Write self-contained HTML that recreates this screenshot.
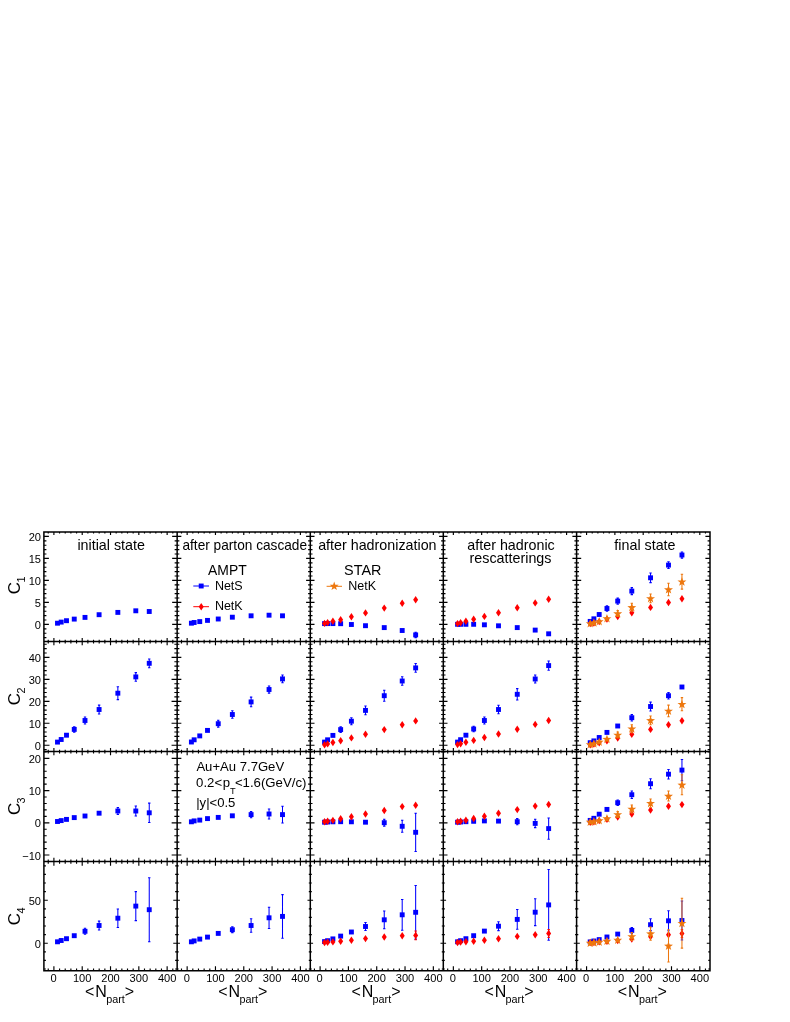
<!DOCTYPE html>
<html><head><meta charset="utf-8"><title>figure</title>
<style>
html,body{margin:0;padding:0;background:#fff;}
body{width:790px;height:1022px;overflow:hidden;}
svg{display:block;will-change:transform;}
text{font-family:"Liberation Sans",sans-serif;fill:#000;}
</style></head><body>
<svg width="790" height="1022" viewBox="0 0 790 1022">
<rect x="0" y="0" width="790" height="1022" fill="#fff"/>
<g id="data">
<g fill="#0000ff" stroke="none"><rect x="55.05" y="620.75" width="4.9" height="4.9"/><rect x="58.75" y="619.65" width="4.9" height="4.9"/><rect x="64.05" y="618.25" width="4.9" height="4.9"/><rect x="71.8" y="616.65" width="4.9" height="4.9"/><rect x="82.55" y="614.95" width="4.9" height="4.9"/><rect x="96.65" y="612.25" width="4.9" height="4.9"/><rect x="115.4" y="609.95" width="4.9" height="4.9"/><rect x="133.35" y="608.35" width="4.9" height="4.9"/><rect x="146.8" y="609.05" width="4.9" height="4.9"/></g>
<g fill="#0000ff" stroke="none"><rect x="188.95" y="620.75" width="4.9" height="4.9"/><rect x="191.7" y="620.05" width="4.9" height="4.9"/><rect x="197.3" y="619.15" width="4.9" height="4.9"/><rect x="205.05" y="617.95" width="4.9" height="4.9"/><rect x="215.8" y="616.55" width="4.9" height="4.9"/><rect x="229.9" y="614.75" width="4.9" height="4.9"/><rect x="248.65" y="613.35" width="4.9" height="4.9"/><rect x="266.6" y="612.75" width="4.9" height="4.9"/><rect x="280.05" y="613.35" width="4.9" height="4.9"/></g>
<g fill="#0000ff" stroke="none"><path d="M415.65 632.2V637.6M414.45 632.2h2.4M414.45 637.6h2.4" stroke="#0000ff" stroke-width="1.05" fill="none"/><rect x="322.1" y="621.15" width="4.9" height="4.9"/><rect x="325.15" y="621.15" width="4.9" height="4.9"/><rect x="330.45" y="621.15" width="4.9" height="4.9"/><rect x="338.2" y="621.25" width="4.9" height="4.9"/><rect x="348.95" y="622.05" width="4.9" height="4.9"/><rect x="363.05" y="623.25" width="4.9" height="4.9"/><rect x="381.8" y="625.15" width="4.9" height="4.9"/><rect x="399.75" y="628.05" width="4.9" height="4.9"/><rect x="413.2" y="632.45" width="4.9" height="4.9"/></g>
<g fill="#ff0000" stroke="none"><polygon points="324.55,619.7 327.05,623.4 324.55,627.1 322.05,623.4"/><polygon points="327.6,618.9 330.1,622.6 327.6,626.3 325.1,622.6"/><polygon points="332.9,617.6 335.4,621.3 332.9,625 330.4,621.3"/><polygon points="340.65,616 343.15,619.7 340.65,623.4 338.15,619.7"/><polygon points="351.4,613 353.9,616.7 351.4,620.4 348.9,616.7"/><polygon points="365.5,609.2 368,612.9 365.5,616.6 363,612.9"/><polygon points="384.25,604.4 386.75,608.1 384.25,611.8 381.75,608.1"/><polygon points="402.2,599.5 404.7,603.2 402.2,606.9 399.7,603.2"/><polygon points="415.65,596.1 418.15,599.8 415.65,603.5 413.15,599.8"/></g>
<g fill="#0000ff" stroke="none"><rect x="455.1" y="621.85" width="4.9" height="4.9"/><rect x="458.15" y="621.85" width="4.9" height="4.9"/><rect x="463.45" y="621.85" width="4.9" height="4.9"/><rect x="471.2" y="621.85" width="4.9" height="4.9"/><rect x="481.95" y="622.35" width="4.9" height="4.9"/><rect x="496.05" y="623.35" width="4.9" height="4.9"/><rect x="514.8" y="625.15" width="4.9" height="4.9"/><rect x="532.75" y="627.65" width="4.9" height="4.9"/><rect x="546.2" y="631.35" width="4.9" height="4.9"/></g>
<g fill="#ff0000" stroke="none"><polygon points="457.55,619.9 460.05,623.6 457.55,627.3 455.05,623.6"/><polygon points="460.6,619.1 463.1,622.8 460.6,626.5 458.1,622.8"/><polygon points="465.9,617.6 468.4,621.3 465.9,625 463.4,621.3"/><polygon points="473.65,615.5 476.15,619.2 473.65,622.9 471.15,619.2"/><polygon points="484.4,612.7 486.9,616.4 484.4,620.1 481.9,616.4"/><polygon points="498.5,609.1 501,612.8 498.5,616.5 496,612.8"/><polygon points="517.25,604 519.75,607.7 517.25,611.4 514.75,607.7"/><polygon points="535.2,599.2 537.7,602.9 535.2,606.6 532.7,602.9"/><polygon points="548.65,595.5 551.15,599.2 548.65,602.9 546.15,599.2"/></g>
<g fill="#0000ff" stroke="none"><path d="M606.95 605.8V611.2M605.75 605.8h2.4M605.75 611.2h2.4M617.7 598.1V604.1M616.5 598.1h2.4M616.5 604.1h2.4M631.8 587.6V594.6M630.6 587.6h2.4M630.6 594.6h2.4M650.55 573V582.6M649.35 573h2.4M649.35 582.6h2.4M668.5 561.7V568.5M667.3 561.7h2.4M667.3 568.5h2.4M681.95 551.9V558.1M680.75 551.9h2.4M680.75 558.1h2.4" stroke="#0000ff" stroke-width="1.05" fill="none"/><rect x="587.75" y="618.95" width="4.9" height="4.9"/><rect x="591.45" y="616.35" width="4.9" height="4.9"/><rect x="596.75" y="612.05" width="4.9" height="4.9"/><rect x="604.5" y="606.05" width="4.9" height="4.9"/><rect x="615.25" y="598.65" width="4.9" height="4.9"/><rect x="629.35" y="588.65" width="4.9" height="4.9"/><rect x="648.1" y="575.35" width="4.9" height="4.9"/><rect x="666.05" y="562.65" width="4.9" height="4.9"/><rect x="679.5" y="552.55" width="4.9" height="4.9"/></g>
<g fill="#ff0000" stroke="none"><polygon points="590.2,619.9 592.7,623.6 590.2,627.3 587.7,623.6"/><polygon points="593.9,619.3 596.4,623 593.9,626.7 591.4,623"/><polygon points="599.2,617.9 601.7,621.6 599.2,625.3 596.7,621.6"/><polygon points="606.95,615.4 609.45,619.1 606.95,622.8 604.45,619.1"/><polygon points="617.7,612.8 620.2,616.5 617.7,620.2 615.2,616.5"/><polygon points="631.8,609.1 634.3,612.8 631.8,616.5 629.3,612.8"/><polygon points="650.55,603.7 653.05,607.4 650.55,611.1 648.05,607.4"/><polygon points="668.5,598.8 671,602.5 668.5,606.2 666,602.5"/><polygon points="681.95,595.1 684.45,598.8 681.95,602.5 679.45,598.8"/></g>
<g fill="#ed770e" stroke="none"><path d="M617.7 610.5V616.5M616.5 610.5h2.4M616.5 616.5h2.4M631.8 603.3V611.3M630.6 603.3h2.4M630.6 611.3h2.4M650.55 594V602.8M649.35 594h2.4M649.35 602.8h2.4M668.5 583.3V595.7M667.3 583.3h2.4M667.3 595.7h2.4M681.95 574.3V589.1M680.75 574.3h2.4M680.75 589.1h2.4" stroke="#ed770e" stroke-width="1.05" fill="none"/><polygon points="590.2,619 591.32,622.16 594.67,622.25 592.01,624.29 592.96,627.5 590.2,625.6 587.44,627.5 588.39,624.29 585.73,622.25 589.08,622.16"/><polygon points="593.9,618.3 595.02,621.46 598.37,621.55 595.71,623.59 596.66,626.8 593.9,624.9 591.14,626.8 592.09,623.59 589.43,621.55 592.78,621.46"/><polygon points="599.2,617 600.32,620.16 603.67,620.25 601.01,622.29 601.96,625.5 599.2,623.6 596.44,625.5 597.39,622.29 594.73,620.25 598.08,620.16"/><polygon points="606.95,614 608.07,617.16 611.42,617.25 608.76,619.29 609.71,622.5 606.95,620.6 604.19,622.5 605.14,619.29 602.48,617.25 605.83,617.16"/><polygon points="617.7,609.1 618.82,612.26 622.17,612.35 619.51,614.39 620.46,617.6 617.7,615.7 614.94,617.6 615.89,614.39 613.23,612.35 616.58,612.26"/><polygon points="631.8,602.9 632.92,606.06 636.27,606.15 633.61,608.19 634.56,611.4 631.8,609.5 629.04,611.4 629.99,608.19 627.33,606.15 630.68,606.06"/><polygon points="650.55,594 651.67,597.16 655.02,597.25 652.36,599.29 653.31,602.5 650.55,600.6 647.79,602.5 648.74,599.29 646.08,597.25 649.43,597.16"/><polygon points="668.5,585.1 669.62,588.26 672.97,588.35 670.31,590.39 671.26,593.6 668.5,591.7 665.74,593.6 666.69,590.39 664.03,588.35 667.38,588.26"/><polygon points="681.95,577.3 683.07,580.46 686.42,580.55 683.76,582.59 684.71,585.8 681.95,583.9 679.19,585.8 680.14,582.59 677.48,580.55 680.83,580.46"/></g>
<g fill="#0000ff" stroke="none"><path d="M74.25 726.7V732.1M73.05 726.7h2.4M73.05 732.1h2.4M85 717V724M83.8 717h2.4M83.8 724h2.4M99.1 705.1V713.9M97.9 705.1h2.4M97.9 713.9h2.4M117.85 686.8V699.6M116.65 686.8h2.4M116.65 699.6h2.4M135.8 672.6V681.2M134.6 672.6h2.4M134.6 681.2h2.4M149.25 658.9V667.7M148.05 658.9h2.4M148.05 667.7h2.4" stroke="#0000ff" stroke-width="1.05" fill="none"/><rect x="55.05" y="739.65" width="4.9" height="4.9"/><rect x="58.75" y="737.05" width="4.9" height="4.9"/><rect x="64.05" y="732.75" width="4.9" height="4.9"/><rect x="71.8" y="726.95" width="4.9" height="4.9"/><rect x="82.55" y="718.05" width="4.9" height="4.9"/><rect x="96.65" y="707.05" width="4.9" height="4.9"/><rect x="115.4" y="690.75" width="4.9" height="4.9"/><rect x="133.35" y="674.45" width="4.9" height="4.9"/><rect x="146.8" y="660.85" width="4.9" height="4.9"/></g>
<g fill="#0000ff" stroke="none"><path d="M218.25 720.3V727.1M217.05 720.3h2.4M217.05 727.1h2.4M232.35 710.7V718.3M231.15 710.7h2.4M231.15 718.3h2.4M251.1 697.1V706.7M249.9 697.1h2.4M249.9 706.7h2.4M269.05 685.9V693.1M267.85 685.9h2.4M267.85 693.1h2.4M282.5 675V682.8M281.3 675h2.4M281.3 682.8h2.4" stroke="#0000ff" stroke-width="1.05" fill="none"/><rect x="188.95" y="739.55" width="4.9" height="4.9"/><rect x="191.7" y="737.35" width="4.9" height="4.9"/><rect x="197.3" y="733.45" width="4.9" height="4.9"/><rect x="205.05" y="727.95" width="4.9" height="4.9"/><rect x="215.8" y="721.25" width="4.9" height="4.9"/><rect x="229.9" y="712.05" width="4.9" height="4.9"/><rect x="248.65" y="699.45" width="4.9" height="4.9"/><rect x="266.6" y="687.05" width="4.9" height="4.9"/><rect x="280.05" y="676.45" width="4.9" height="4.9"/></g>
<g fill="#0000ff" stroke="none"><path d="M340.65 726.8V732.4M339.45 726.8h2.4M339.45 732.4h2.4M351.4 717.7V724.7M350.2 717.7h2.4M350.2 724.7h2.4M365.5 706V714.8M364.3 706h2.4M364.3 714.8h2.4M384.25 690.2V701.2M383.05 690.2h2.4M383.05 701.2h2.4M402.2 676.8V685.2M401 676.8h2.4M401 685.2h2.4M415.65 663.5V672.3M414.45 663.5h2.4M414.45 672.3h2.4" stroke="#0000ff" stroke-width="1.05" fill="none"/><rect x="322.1" y="739.65" width="4.9" height="4.9"/><rect x="325.15" y="737.35" width="4.9" height="4.9"/><rect x="330.45" y="732.95" width="4.9" height="4.9"/><rect x="338.2" y="727.15" width="4.9" height="4.9"/><rect x="348.95" y="718.75" width="4.9" height="4.9"/><rect x="363.05" y="707.95" width="4.9" height="4.9"/><rect x="381.8" y="693.25" width="4.9" height="4.9"/><rect x="399.75" y="678.55" width="4.9" height="4.9"/><rect x="413.2" y="665.45" width="4.9" height="4.9"/></g>
<g fill="#ff0000" stroke="none"><polygon points="324.55,741.1 327.05,744.8 324.55,748.5 322.05,744.8"/><polygon points="327.6,740.2 330.1,743.9 327.6,747.6 325.1,743.9"/><polygon points="332.9,738.8 335.4,742.5 332.9,746.2 330.4,742.5"/><polygon points="340.65,737 343.15,740.7 340.65,744.4 338.15,740.7"/><polygon points="351.4,734.2 353.9,737.9 351.4,741.6 348.9,737.9"/><polygon points="365.5,730.6 368,734.3 365.5,738 363,734.3"/><polygon points="384.25,725.9 386.75,729.6 384.25,733.3 381.75,729.6"/><polygon points="402.2,721.1 404.7,724.8 402.2,728.5 399.7,724.8"/><polygon points="415.65,717.2 418.15,720.9 415.65,724.6 413.15,720.9"/></g>
<g fill="#0000ff" stroke="none"><path d="M473.65 726.2V731.8M472.45 726.2h2.4M472.45 731.8h2.4M484.4 717V724M483.2 717h2.4M483.2 724h2.4M498.5 705.2V713.8M497.3 705.2h2.4M497.3 713.8h2.4M517.25 688.6V700M516.05 688.6h2.4M516.05 700h2.4M535.2 675V683M534 675h2.4M534 683h2.4M548.65 661V670.2M547.45 661h2.4M547.45 670.2h2.4" stroke="#0000ff" stroke-width="1.05" fill="none"/><rect x="455.1" y="739.65" width="4.9" height="4.9"/><rect x="458.15" y="737.25" width="4.9" height="4.9"/><rect x="463.45" y="732.75" width="4.9" height="4.9"/><rect x="471.2" y="726.55" width="4.9" height="4.9"/><rect x="481.95" y="718.05" width="4.9" height="4.9"/><rect x="496.05" y="707.05" width="4.9" height="4.9"/><rect x="514.8" y="691.85" width="4.9" height="4.9"/><rect x="532.75" y="676.55" width="4.9" height="4.9"/><rect x="546.2" y="663.15" width="4.9" height="4.9"/></g>
<g fill="#ff0000" stroke="none"><polygon points="457.55,740.9 460.05,744.6 457.55,748.3 455.05,744.6"/><polygon points="460.6,740 463.1,743.7 460.6,747.4 458.1,743.7"/><polygon points="465.9,738.6 468.4,742.3 465.9,746 463.4,742.3"/><polygon points="473.65,736.7 476.15,740.4 473.65,744.1 471.15,740.4"/><polygon points="484.4,733.8 486.9,737.5 484.4,741.2 481.9,737.5"/><polygon points="498.5,730.3 501,734 498.5,737.7 496,734"/><polygon points="517.25,725.5 519.75,729.2 517.25,732.9 514.75,729.2"/><polygon points="535.2,720.7 537.7,724.4 535.2,728.1 532.7,724.4"/><polygon points="548.65,716.8 551.15,720.5 548.65,724.2 546.15,720.5"/></g>
<g fill="#0000ff" stroke="none"><path d="M631.8 714.4V721M630.6 714.4h2.4M630.6 721h2.4M650.55 702.1V710.9M649.35 702.1h2.4M649.35 710.9h2.4M668.5 692.5V698.9M667.3 692.5h2.4M667.3 698.9h2.4" stroke="#0000ff" stroke-width="1.05" fill="none"/><rect x="587.75" y="740.25" width="4.9" height="4.9"/><rect x="591.45" y="738.45" width="4.9" height="4.9"/><rect x="596.75" y="735.05" width="4.9" height="4.9"/><rect x="604.5" y="729.95" width="4.9" height="4.9"/><rect x="615.25" y="723.55" width="4.9" height="4.9"/><rect x="629.35" y="715.25" width="4.9" height="4.9"/><rect x="648.1" y="704.05" width="4.9" height="4.9"/><rect x="666.05" y="693.25" width="4.9" height="4.9"/><rect x="679.5" y="684.55" width="4.9" height="4.9"/></g>
<g fill="#ff0000" stroke="none"><polygon points="590.2,741.1 592.7,744.8 590.2,748.5 587.7,744.8"/><polygon points="593.9,740.4 596.4,744.1 593.9,747.8 591.4,744.1"/><polygon points="599.2,739 601.7,742.7 599.2,746.4 596.7,742.7"/><polygon points="606.95,737.2 609.45,740.9 606.95,744.6 604.45,740.9"/><polygon points="617.7,734.4 620.2,738.1 617.7,741.8 615.2,738.1"/><polygon points="631.8,730.6 634.3,734.3 631.8,738 629.3,734.3"/><polygon points="650.55,725.7 653.05,729.4 650.55,733.1 648.05,729.4"/><polygon points="668.5,721.1 671,724.8 668.5,728.5 666,724.8"/><polygon points="681.95,717 684.45,720.7 681.95,724.4 679.45,720.7"/></g>
<g fill="#ed770e" stroke="none"><path d="M617.7 731.9V737.9M616.5 731.9h2.4M616.5 737.9h2.4M631.8 724.7V732.7M630.6 724.7h2.4M630.6 732.7h2.4M650.55 715.9V724.7M649.35 715.9h2.4M649.35 724.7h2.4M668.5 705.1V716.7M667.3 705.1h2.4M667.3 716.7h2.4M681.95 697.6V710.8M680.75 697.6h2.4M680.75 710.8h2.4" stroke="#ed770e" stroke-width="1.05" fill="none"/><polygon points="590.2,740 591.32,743.16 594.67,743.25 592.01,745.29 592.96,748.5 590.2,746.6 587.44,748.5 588.39,745.29 585.73,743.25 589.08,743.16"/><polygon points="593.9,739.2 595.02,742.36 598.37,742.45 595.71,744.49 596.66,747.7 593.9,745.8 591.14,747.7 592.09,744.49 589.43,742.45 592.78,742.36"/><polygon points="599.2,737.4 600.32,740.56 603.67,740.65 601.01,742.69 601.96,745.9 599.2,744 596.44,745.9 597.39,742.69 594.73,740.65 598.08,740.56"/><polygon points="606.95,734.7 608.07,737.86 611.42,737.95 608.76,739.99 609.71,743.2 606.95,741.3 604.19,743.2 605.14,739.99 602.48,737.95 605.83,737.86"/><polygon points="617.7,730.5 618.82,733.66 622.17,733.75 619.51,735.79 620.46,739 617.7,737.1 614.94,739 615.89,735.79 613.23,733.75 616.58,733.66"/><polygon points="631.8,724.3 632.92,727.46 636.27,727.55 633.61,729.59 634.56,732.8 631.8,730.9 629.04,732.8 629.99,729.59 627.33,727.55 630.68,727.46"/><polygon points="650.55,715.9 651.67,719.06 655.02,719.15 652.36,721.19 653.31,724.4 650.55,722.5 647.79,724.4 648.74,721.19 646.08,719.15 649.43,719.06"/><polygon points="668.5,706.5 669.62,709.66 672.97,709.75 670.31,711.79 671.26,715 668.5,713.1 665.74,715 666.69,711.79 664.03,709.75 667.38,709.66"/><polygon points="681.95,699.8 683.07,702.96 686.42,703.05 683.76,705.09 684.71,708.3 681.95,706.4 679.19,708.3 680.14,705.09 677.48,703.05 680.83,702.96"/></g>
<g fill="#0000ff" stroke="none"><path d="M117.85 807.5V814.5M116.65 807.5h2.4M116.65 814.5h2.4M135.8 806V816M134.6 806h2.4M134.6 816h2.4M149.25 803.1V822.5M148.05 803.1h2.4M148.05 822.5h2.4" stroke="#0000ff" stroke-width="1.05" fill="none"/><rect x="55.05" y="819.05" width="4.9" height="4.9"/><rect x="58.75" y="818.15" width="4.9" height="4.9"/><rect x="64.05" y="816.95" width="4.9" height="4.9"/><rect x="71.8" y="815.15" width="4.9" height="4.9"/><rect x="82.55" y="813.55" width="4.9" height="4.9"/><rect x="96.65" y="810.75" width="4.9" height="4.9"/><rect x="115.4" y="808.55" width="4.9" height="4.9"/><rect x="133.35" y="808.55" width="4.9" height="4.9"/><rect x="146.8" y="810.35" width="4.9" height="4.9"/></g>
<g fill="#0000ff" stroke="none"><path d="M251.1 811.4V817.8M249.9 811.4h2.4M249.9 817.8h2.4M269.05 809V819M267.85 809h2.4M267.85 819h2.4M282.5 806.3V822.9M281.3 806.3h2.4M281.3 822.9h2.4" stroke="#0000ff" stroke-width="1.05" fill="none"/><rect x="188.95" y="819.35" width="4.9" height="4.9"/><rect x="191.7" y="818.45" width="4.9" height="4.9"/><rect x="197.3" y="817.65" width="4.9" height="4.9"/><rect x="205.05" y="816.15" width="4.9" height="4.9"/><rect x="215.8" y="814.95" width="4.9" height="4.9"/><rect x="229.9" y="813.35" width="4.9" height="4.9"/><rect x="248.65" y="812.15" width="4.9" height="4.9"/><rect x="266.6" y="811.55" width="4.9" height="4.9"/><rect x="280.05" y="812.15" width="4.9" height="4.9"/></g>
<g fill="#0000ff" stroke="none"><path d="M384.25 819.3V826.1M383.05 819.3h2.4M383.05 826.1h2.4M402.2 820.3V832.3M401 820.3h2.4M401 832.3h2.4M415.65 813.2V851.4M414.45 813.2h2.4M414.45 851.4h2.4" stroke="#0000ff" stroke-width="1.05" fill="none"/><rect x="322.1" y="819.75" width="4.9" height="4.9"/><rect x="325.15" y="819.55" width="4.9" height="4.9"/><rect x="330.45" y="819.35" width="4.9" height="4.9"/><rect x="338.2" y="819.25" width="4.9" height="4.9"/><rect x="348.95" y="819.35" width="4.9" height="4.9"/><rect x="363.05" y="819.75" width="4.9" height="4.9"/><rect x="381.8" y="820.25" width="4.9" height="4.9"/><rect x="399.75" y="823.85" width="4.9" height="4.9"/><rect x="413.2" y="829.85" width="4.9" height="4.9"/></g>
<g fill="#ff0000" stroke="none"><polygon points="324.55,818.1 327.05,821.8 324.55,825.5 322.05,821.8"/><polygon points="327.6,817.6 330.1,821.3 327.6,825 325.1,821.3"/><polygon points="332.9,816.7 335.4,820.4 332.9,824.1 330.4,820.4"/><polygon points="340.65,815.1 343.15,818.8 340.65,822.5 338.15,818.8"/><polygon points="351.4,813 353.9,816.7 351.4,820.4 348.9,816.7"/><polygon points="365.5,810.3 368,814 365.5,817.7 363,814"/><polygon points="384.25,806.8 386.75,810.5 384.25,814.2 381.75,810.5"/><polygon points="402.2,802.9 404.7,806.6 402.2,810.3 399.7,806.6"/><polygon points="415.65,801.5 418.15,805.2 415.65,808.9 413.15,805.2"/></g>
<g fill="#0000ff" stroke="none"><path d="M517.25 818.6V824.8M516.05 818.6h2.4M516.05 824.8h2.4M535.2 819.2V827.6M534 819.2h2.4M534 827.6h2.4M548.65 818V839.2M547.45 818h2.4M547.45 839.2h2.4" stroke="#0000ff" stroke-width="1.05" fill="none"/><rect x="455.1" y="819.75" width="4.9" height="4.9"/><rect x="458.15" y="819.55" width="4.9" height="4.9"/><rect x="463.45" y="819.25" width="4.9" height="4.9"/><rect x="471.2" y="818.85" width="4.9" height="4.9"/><rect x="481.95" y="818.45" width="4.9" height="4.9"/><rect x="496.05" y="818.65" width="4.9" height="4.9"/><rect x="514.8" y="819.25" width="4.9" height="4.9"/><rect x="532.75" y="820.95" width="4.9" height="4.9"/><rect x="546.2" y="826.15" width="4.9" height="4.9"/></g>
<g fill="#ff0000" stroke="none"><polygon points="457.55,818.1 460.05,821.8 457.55,825.5 455.05,821.8"/><polygon points="460.6,817.6 463.1,821.3 460.6,825 458.1,821.3"/><polygon points="465.9,816.5 468.4,820.2 465.9,823.9 463.4,820.2"/><polygon points="473.65,814.8 476.15,818.5 473.65,822.2 471.15,818.5"/><polygon points="484.4,812.5 486.9,816.2 484.4,819.9 481.9,816.2"/><polygon points="498.5,809.6 501,813.3 498.5,817 496,813.3"/><polygon points="517.25,805.9 519.75,809.6 517.25,813.3 514.75,809.6"/><polygon points="535.2,802.4 537.7,806.1 535.2,809.8 532.7,806.1"/><polygon points="548.65,800.8 551.15,804.5 548.65,808.2 546.15,804.5"/></g>
<g fill="#0000ff" stroke="none"><path d="M617.7 799.9V805.5M616.5 799.9h2.4M616.5 805.5h2.4M631.8 791V798.4M630.6 791h2.4M630.6 798.4h2.4M650.55 778.7V788.7M649.35 778.7h2.4M649.35 788.7h2.4M668.5 769.4V779M667.3 769.4h2.4M667.3 779h2.4M681.95 759.5V780.7M680.75 759.5h2.4M680.75 780.7h2.4" stroke="#0000ff" stroke-width="1.05" fill="none"/><rect x="587.75" y="817.95" width="4.9" height="4.9"/><rect x="591.45" y="815.85" width="4.9" height="4.9"/><rect x="596.75" y="811.75" width="4.9" height="4.9"/><rect x="604.5" y="806.95" width="4.9" height="4.9"/><rect x="615.25" y="800.25" width="4.9" height="4.9"/><rect x="629.35" y="792.25" width="4.9" height="4.9"/><rect x="648.1" y="781.25" width="4.9" height="4.9"/><rect x="666.05" y="771.75" width="4.9" height="4.9"/><rect x="679.5" y="767.65" width="4.9" height="4.9"/></g>
<g fill="#ff0000" stroke="none"><polygon points="590.2,818.5 592.7,822.2 590.2,825.9 587.7,822.2"/><polygon points="593.9,818 596.4,821.7 593.9,825.4 591.4,821.7"/><polygon points="599.2,816.9 601.7,820.6 599.2,824.3 596.7,820.6"/><polygon points="606.95,815.5 609.45,819.2 606.95,822.9 604.45,819.2"/><polygon points="617.7,813.3 620.2,817 617.7,820.7 615.2,817"/><polygon points="631.8,810.3 634.3,814 631.8,817.7 629.3,814"/><polygon points="650.55,806.4 653.05,810.1 650.55,813.8 648.05,810.1"/><polygon points="668.5,802.5 671,806.2 668.5,809.9 666,806.2"/><polygon points="681.95,800.9 684.45,804.6 681.95,808.3 679.45,804.6"/></g>
<g fill="#ed770e" stroke="none"><path d="M617.7 811.4V817.4M616.5 811.4h2.4M616.5 817.4h2.4M631.8 804.9V812.9M630.6 804.9h2.4M630.6 812.9h2.4M650.55 798.9V807.5M649.35 798.9h2.4M649.35 807.5h2.4M668.5 791V801M667.3 791h2.4M667.3 801h2.4M681.95 774.8V794.8M680.75 774.8h2.4M680.75 794.8h2.4" stroke="#ed770e" stroke-width="1.05" fill="none"/><polygon points="590.2,817.4 591.32,820.56 594.67,820.65 592.01,822.69 592.96,825.9 590.2,824 587.44,825.9 588.39,822.69 585.73,820.65 589.08,820.56"/><polygon points="593.9,817.1 595.02,820.26 598.37,820.35 595.71,822.39 596.66,825.6 593.9,823.7 591.14,825.6 592.09,822.39 589.43,820.35 592.78,820.26"/><polygon points="599.2,816 600.32,819.16 603.67,819.25 601.01,821.29 601.96,824.5 599.2,822.6 596.44,824.5 597.39,821.29 594.73,819.25 598.08,819.16"/><polygon points="606.95,814.1 608.07,817.26 611.42,817.35 608.76,819.39 609.71,822.6 606.95,820.7 604.19,822.6 605.14,819.39 602.48,817.35 605.83,817.26"/><polygon points="617.7,810 618.82,813.16 622.17,813.25 619.51,815.29 620.46,818.5 617.7,816.6 614.94,818.5 615.89,815.29 613.23,813.25 616.58,813.16"/><polygon points="631.8,804.5 632.92,807.66 636.27,807.75 633.61,809.79 634.56,813 631.8,811.1 629.04,813 629.99,809.79 627.33,807.75 630.68,807.66"/><polygon points="650.55,798.8 651.67,801.96 655.02,802.05 652.36,804.09 653.31,807.3 650.55,805.4 647.79,807.3 648.74,804.09 646.08,802.05 649.43,801.96"/><polygon points="668.5,791.6 669.62,794.76 672.97,794.85 670.31,796.89 671.26,800.1 668.5,798.2 665.74,800.1 666.69,796.89 664.03,794.85 667.38,794.76"/><polygon points="681.95,780.4 683.07,783.56 686.42,783.65 683.76,785.69 684.71,788.9 681.95,787 679.19,788.9 680.14,785.69 677.48,783.65 680.83,783.56"/></g>
<g fill="#0000ff" stroke="none"><path d="M85 928.3V934.3M83.8 928.3h2.4M83.8 934.3h2.4M99.1 921.1V929.9M97.9 921.1h2.4M97.9 929.9h2.4M117.85 909V927.4M116.65 909h2.4M116.65 927.4h2.4M135.8 891.6V920.6M134.6 891.6h2.4M134.6 920.6h2.4M149.25 877.7V941.7M148.05 877.7h2.4M148.05 941.7h2.4" stroke="#0000ff" stroke-width="1.05" fill="none"/><rect x="55.05" y="939.35" width="4.9" height="4.9"/><rect x="58.75" y="938.05" width="4.9" height="4.9"/><rect x="64.05" y="936.25" width="4.9" height="4.9"/><rect x="71.8" y="933.25" width="4.9" height="4.9"/><rect x="82.55" y="928.85" width="4.9" height="4.9"/><rect x="96.65" y="923.05" width="4.9" height="4.9"/><rect x="115.4" y="915.75" width="4.9" height="4.9"/><rect x="133.35" y="903.65" width="4.9" height="4.9"/><rect x="146.8" y="907.25" width="4.9" height="4.9"/></g>
<g fill="#0000ff" stroke="none"><path d="M232.35 926.8V932.6M231.15 926.8h2.4M231.15 932.6h2.4M251.1 918.8V932.2M249.9 918.8h2.4M249.9 932.2h2.4M269.05 907.2V928.4M267.85 907.2h2.4M267.85 928.4h2.4M282.5 894.6V938.2M281.3 894.6h2.4M281.3 938.2h2.4" stroke="#0000ff" stroke-width="1.05" fill="none"/><rect x="188.95" y="939.35" width="4.9" height="4.9"/><rect x="191.7" y="938.45" width="4.9" height="4.9"/><rect x="197.3" y="936.65" width="4.9" height="4.9"/><rect x="205.05" y="934.65" width="4.9" height="4.9"/><rect x="215.8" y="930.95" width="4.9" height="4.9"/><rect x="229.9" y="927.25" width="4.9" height="4.9"/><rect x="248.65" y="923.05" width="4.9" height="4.9"/><rect x="266.6" y="915.35" width="4.9" height="4.9"/><rect x="280.05" y="913.95" width="4.9" height="4.9"/></g>
<g fill="#0000ff" stroke="none"><path d="M365.5 922.5V930.5M364.3 922.5h2.4M364.3 930.5h2.4M384.25 910.9V928.7M383.05 910.9h2.4M383.05 928.7h2.4M402.2 899.4V930.2M401 899.4h2.4M401 930.2h2.4M415.65 885.5V939.1M414.45 885.5h2.4M414.45 939.1h2.4" stroke="#0000ff" stroke-width="1.05" fill="none"/><rect x="322.1" y="939.15" width="4.9" height="4.9"/><rect x="325.15" y="938.25" width="4.9" height="4.9"/><rect x="330.45" y="936.45" width="4.9" height="4.9"/><rect x="338.2" y="933.65" width="4.9" height="4.9"/><rect x="348.95" y="929.55" width="4.9" height="4.9"/><rect x="363.05" y="924.05" width="4.9" height="4.9"/><rect x="381.8" y="917.35" width="4.9" height="4.9"/><rect x="399.75" y="912.35" width="4.9" height="4.9"/><rect x="413.2" y="909.85" width="4.9" height="4.9"/></g>
<g fill="#ff0000" stroke="none"><path d="M415.65 931V939.8M414.45 931h2.4M414.45 939.8h2.4" stroke="#ff0000" stroke-width="1.05" fill="none"/><polygon points="324.55,938.9 327.05,942.6 324.55,946.3 322.05,942.6"/><polygon points="327.6,938.6 330.1,942.3 327.6,946 325.1,942.3"/><polygon points="332.9,938.2 335.4,941.9 332.9,945.6 330.4,941.9"/><polygon points="340.65,937.5 343.15,941.2 340.65,944.9 338.15,941.2"/><polygon points="351.4,936.5 353.9,940.2 351.4,943.9 348.9,940.2"/><polygon points="365.5,934.9 368,938.6 365.5,942.3 363,938.6"/><polygon points="384.25,933.3 386.75,937 384.25,940.7 381.75,937"/><polygon points="402.2,932 404.7,935.7 402.2,939.4 399.7,935.7"/><polygon points="415.65,931.7 418.15,935.4 415.65,939.1 413.15,935.4"/></g>
<g fill="#0000ff" stroke="none"><path d="M498.5 921.8V930.6M497.3 921.8h2.4M497.3 930.6h2.4M517.25 909.5V929.3M516.05 909.5h2.4M516.05 929.3h2.4M535.2 898.8V925.6M534 898.8h2.4M534 925.6h2.4M548.65 869.5V940.3M547.45 869.5h2.4M547.45 940.3h2.4" stroke="#0000ff" stroke-width="1.05" fill="none"/><rect x="455.1" y="939.35" width="4.9" height="4.9"/><rect x="458.15" y="938.25" width="4.9" height="4.9"/><rect x="463.45" y="936.25" width="4.9" height="4.9"/><rect x="471.2" y="933.25" width="4.9" height="4.9"/><rect x="481.95" y="928.65" width="4.9" height="4.9"/><rect x="496.05" y="923.75" width="4.9" height="4.9"/><rect x="514.8" y="916.95" width="4.9" height="4.9"/><rect x="532.75" y="909.75" width="4.9" height="4.9"/><rect x="546.2" y="902.45" width="4.9" height="4.9"/></g>
<g fill="#ff0000" stroke="none"><path d="M548.65 929.4V937.4M547.45 929.4h2.4M547.45 937.4h2.4" stroke="#ff0000" stroke-width="1.05" fill="none"/><polygon points="457.55,938.8 460.05,942.5 457.55,946.2 455.05,942.5"/><polygon points="460.6,938.4 463.1,942.1 460.6,945.8 458.1,942.1"/><polygon points="465.9,938.1 468.4,941.8 465.9,945.5 463.4,941.8"/><polygon points="473.65,937.5 476.15,941.2 473.65,944.9 471.15,941.2"/><polygon points="484.4,936.5 486.9,940.2 484.4,943.9 481.9,940.2"/><polygon points="498.5,935 501,938.7 498.5,942.4 496,938.7"/><polygon points="517.25,932.7 519.75,936.4 517.25,940.1 514.75,936.4"/><polygon points="535.2,931.1 537.7,934.8 535.2,938.5 532.7,934.8"/><polygon points="548.65,929.7 551.15,933.4 548.65,937.1 546.15,933.4"/></g>
<g fill="#0000ff" stroke="none"><path d="M631.8 927.4V933.4M630.6 927.4h2.4M630.6 933.4h2.4M650.55 918.8V930.6M649.35 918.8h2.4M649.35 930.6h2.4M668.5 910.8V930.8M667.3 910.8h2.4M667.3 930.8h2.4M681.95 901V940M680.75 901h2.4M680.75 940h2.4" stroke="#0000ff" stroke-width="1.05" fill="none"/><rect x="587.75" y="939.45" width="4.9" height="4.9"/><rect x="591.45" y="938.55" width="4.9" height="4.9"/><rect x="596.75" y="937.15" width="4.9" height="4.9"/><rect x="604.5" y="934.55" width="4.9" height="4.9"/><rect x="615.25" y="931.65" width="4.9" height="4.9"/><rect x="629.35" y="927.95" width="4.9" height="4.9"/><rect x="648.1" y="922.25" width="4.9" height="4.9"/><rect x="666.05" y="918.35" width="4.9" height="4.9"/><rect x="679.5" y="918.05" width="4.9" height="4.9"/></g>
<g fill="#ff0000" stroke="none"><path d="M681.95 929.6V937.6M680.75 929.6h2.4M680.75 937.6h2.4" stroke="#ff0000" stroke-width="1.05" fill="none"/><polygon points="590.2,938.9 592.7,942.6 590.2,946.3 587.7,942.6"/><polygon points="593.9,938.8 596.4,942.5 593.9,946.2 591.4,942.5"/><polygon points="599.2,938.2 601.7,941.9 599.2,945.6 596.7,941.9"/><polygon points="606.95,937.7 609.45,941.4 606.95,945.1 604.45,941.4"/><polygon points="617.7,936.8 620.2,940.5 617.7,944.2 615.2,940.5"/><polygon points="631.8,935.4 634.3,939.1 631.8,942.8 629.3,939.1"/><polygon points="650.55,932.9 653.05,936.6 650.55,940.3 648.05,936.6"/><polygon points="668.5,931.1 671,934.8 668.5,938.5 666,934.8"/><polygon points="681.95,929.9 684.45,933.6 681.95,937.3 679.45,933.6"/></g>
<g fill="#ed770e" stroke="none"><path d="M631.8 932.4V940.4M630.6 932.4h2.4M630.6 940.4h2.4M650.55 927V940.2M649.35 927h2.4M649.35 940.2h2.4M668.5 929.7V961.9M667.3 929.7h2.4M667.3 961.9h2.4M681.95 898.3V948.1M680.75 898.3h2.4M680.75 948.1h2.4" stroke="#ed770e" stroke-width="1.05" fill="none"/><polygon points="590.2,938.6 591.32,941.76 594.67,941.85 592.01,943.89 592.96,947.1 590.2,945.2 587.44,947.1 588.39,943.89 585.73,941.85 589.08,941.76"/><polygon points="593.9,938.2 595.02,941.36 598.37,941.45 595.71,943.49 596.66,946.7 593.9,944.8 591.14,946.7 592.09,943.49 589.43,941.45 592.78,941.36"/><polygon points="599.2,937.5 600.32,940.66 603.67,940.75 601.01,942.79 601.96,946 599.2,944.1 596.44,946 597.39,942.79 594.73,940.75 598.08,940.66"/><polygon points="606.95,936.6 608.07,939.76 611.42,939.85 608.76,941.89 609.71,945.1 606.95,943.2 604.19,945.1 605.14,941.89 602.48,939.85 605.83,939.76"/><polygon points="617.7,935.6 618.82,938.76 622.17,938.85 619.51,940.89 620.46,944.1 617.7,942.2 614.94,944.1 615.89,940.89 613.23,938.85 616.58,938.76"/><polygon points="631.8,932 632.92,935.16 636.27,935.25 633.61,937.29 634.56,940.5 631.8,938.6 629.04,940.5 629.99,937.29 627.33,935.25 630.68,935.16"/><polygon points="650.55,929.2 651.67,932.36 655.02,932.45 652.36,934.49 653.31,937.7 650.55,935.8 647.79,937.7 648.74,934.49 646.08,932.45 649.43,932.36"/><polygon points="668.5,941.4 669.62,944.56 672.97,944.65 670.31,946.69 671.26,949.9 668.5,948 665.74,949.9 666.69,946.69 664.03,944.65 667.38,944.56"/><polygon points="681.95,918.8 683.07,921.96 686.42,922.05 683.76,924.09 684.71,927.3 681.95,925.4 679.19,927.3 680.14,924.09 677.48,922.05 680.83,921.96"/></g>
</g>
<g id="axes" stroke="#000" fill="none">
<path d="M43.9 531.35V971.5M177.15 531.35V971.5M310.3 531.35V971.5M443.3 531.35V971.5M576.6 531.35V971.5M710 531.35V971.5M43.15 532.1H710.75M43.15 641.55H710.75M43.15 751.55H710.75M43.15 861.45H710.75M43.15 970.75H710.75" stroke-width="1.5"/>
<path d="M48.24 532.1V533.6M48.24 639.65V643.45M48.24 749.65V753.45M48.24 859.55V863.75M48.24 968.45V970.75M53.9 532.1V535.1M53.9 637.95V645.15M53.9 747.95V755.15M53.9 857.85V865.85M53.9 966.35V970.75M59.56 532.1V533.6M59.56 639.65V643.45M59.56 749.65V753.45M59.56 859.55V863.75M59.56 968.45V970.75M65.22 532.1V533.6M65.22 639.65V643.45M65.22 749.65V753.45M65.22 859.55V863.75M65.22 968.45V970.75M70.89 532.1V533.6M70.89 639.65V643.45M70.89 749.65V753.45M70.89 859.55V863.75M70.89 968.45V970.75M76.55 532.1V533.6M76.55 639.65V643.45M76.55 749.65V753.45M76.55 859.55V863.75M76.55 968.45V970.75M82.21 532.1V535.1M82.21 637.95V645.15M82.21 747.95V755.15M82.21 857.85V865.85M82.21 966.35V970.75M87.87 532.1V533.6M87.87 639.65V643.45M87.87 749.65V753.45M87.87 859.55V863.75M87.87 968.45V970.75M93.53 532.1V533.6M93.53 639.65V643.45M93.53 749.65V753.45M93.53 859.55V863.75M93.53 968.45V970.75M99.2 532.1V533.6M99.2 639.65V643.45M99.2 749.65V753.45M99.2 859.55V863.75M99.2 968.45V970.75M104.86 532.1V533.6M104.86 639.65V643.45M104.86 749.65V753.45M104.86 859.55V863.75M104.86 968.45V970.75M110.52 532.1V535.1M110.52 637.95V645.15M110.52 747.95V755.15M110.52 857.85V865.85M110.52 966.35V970.75M116.18 532.1V533.6M116.18 639.65V643.45M116.18 749.65V753.45M116.18 859.55V863.75M116.18 968.45V970.75M121.84 532.1V533.6M121.84 639.65V643.45M121.84 749.65V753.45M121.84 859.55V863.75M121.84 968.45V970.75M127.51 532.1V533.6M127.51 639.65V643.45M127.51 749.65V753.45M127.51 859.55V863.75M127.51 968.45V970.75M133.17 532.1V533.6M133.17 639.65V643.45M133.17 749.65V753.45M133.17 859.55V863.75M133.17 968.45V970.75M138.83 532.1V535.1M138.83 637.95V645.15M138.83 747.95V755.15M138.83 857.85V865.85M138.83 966.35V970.75M144.49 532.1V533.6M144.49 639.65V643.45M144.49 749.65V753.45M144.49 859.55V863.75M144.49 968.45V970.75M150.15 532.1V533.6M150.15 639.65V643.45M150.15 749.65V753.45M150.15 859.55V863.75M150.15 968.45V970.75M155.82 532.1V533.6M155.82 639.65V643.45M155.82 749.65V753.45M155.82 859.55V863.75M155.82 968.45V970.75M161.48 532.1V533.6M161.48 639.65V643.45M161.48 749.65V753.45M161.48 859.55V863.75M161.48 968.45V970.75M167.14 532.1V535.1M167.14 637.95V645.15M167.14 747.95V755.15M167.14 857.85V865.85M167.14 966.35V970.75M172.8 532.1V533.6M172.8 639.65V643.45M172.8 749.65V753.45M172.8 859.55V863.75M172.8 968.45V970.75M181.49 532.1V533.6M181.49 639.65V643.45M181.49 749.65V753.45M181.49 859.55V863.75M181.49 968.45V970.75M187.15 532.1V535.1M187.15 637.95V645.15M187.15 747.95V755.15M187.15 857.85V865.85M187.15 966.35V970.75M192.81 532.1V533.6M192.81 639.65V643.45M192.81 749.65V753.45M192.81 859.55V863.75M192.81 968.45V970.75M198.47 532.1V533.6M198.47 639.65V643.45M198.47 749.65V753.45M198.47 859.55V863.75M198.47 968.45V970.75M204.14 532.1V533.6M204.14 639.65V643.45M204.14 749.65V753.45M204.14 859.55V863.75M204.14 968.45V970.75M209.8 532.1V533.6M209.8 639.65V643.45M209.8 749.65V753.45M209.8 859.55V863.75M209.8 968.45V970.75M215.46 532.1V535.1M215.46 637.95V645.15M215.46 747.95V755.15M215.46 857.85V865.85M215.46 966.35V970.75M221.12 532.1V533.6M221.12 639.65V643.45M221.12 749.65V753.45M221.12 859.55V863.75M221.12 968.45V970.75M226.78 532.1V533.6M226.78 639.65V643.45M226.78 749.65V753.45M226.78 859.55V863.75M226.78 968.45V970.75M232.45 532.1V533.6M232.45 639.65V643.45M232.45 749.65V753.45M232.45 859.55V863.75M232.45 968.45V970.75M238.11 532.1V533.6M238.11 639.65V643.45M238.11 749.65V753.45M238.11 859.55V863.75M238.11 968.45V970.75M243.77 532.1V535.1M243.77 637.95V645.15M243.77 747.95V755.15M243.77 857.85V865.85M243.77 966.35V970.75M249.43 532.1V533.6M249.43 639.65V643.45M249.43 749.65V753.45M249.43 859.55V863.75M249.43 968.45V970.75M255.09 532.1V533.6M255.09 639.65V643.45M255.09 749.65V753.45M255.09 859.55V863.75M255.09 968.45V970.75M260.76 532.1V533.6M260.76 639.65V643.45M260.76 749.65V753.45M260.76 859.55V863.75M260.76 968.45V970.75M266.42 532.1V533.6M266.42 639.65V643.45M266.42 749.65V753.45M266.42 859.55V863.75M266.42 968.45V970.75M272.08 532.1V535.1M272.08 637.95V645.15M272.08 747.95V755.15M272.08 857.85V865.85M272.08 966.35V970.75M277.74 532.1V533.6M277.74 639.65V643.45M277.74 749.65V753.45M277.74 859.55V863.75M277.74 968.45V970.75M283.4 532.1V533.6M283.4 639.65V643.45M283.4 749.65V753.45M283.4 859.55V863.75M283.4 968.45V970.75M289.07 532.1V533.6M289.07 639.65V643.45M289.07 749.65V753.45M289.07 859.55V863.75M289.07 968.45V970.75M294.73 532.1V533.6M294.73 639.65V643.45M294.73 749.65V753.45M294.73 859.55V863.75M294.73 968.45V970.75M300.39 532.1V535.1M300.39 637.95V645.15M300.39 747.95V755.15M300.39 857.85V865.85M300.39 966.35V970.75M306.05 532.1V533.6M306.05 639.65V643.45M306.05 749.65V753.45M306.05 859.55V863.75M306.05 968.45V970.75M314.44 532.1V533.6M314.44 639.65V643.45M314.44 749.65V753.45M314.44 859.55V863.75M314.44 968.45V970.75M320.1 532.1V535.1M320.1 637.95V645.15M320.1 747.95V755.15M320.1 857.85V865.85M320.1 966.35V970.75M325.76 532.1V533.6M325.76 639.65V643.45M325.76 749.65V753.45M325.76 859.55V863.75M325.76 968.45V970.75M331.42 532.1V533.6M331.42 639.65V643.45M331.42 749.65V753.45M331.42 859.55V863.75M331.42 968.45V970.75M337.09 532.1V533.6M337.09 639.65V643.45M337.09 749.65V753.45M337.09 859.55V863.75M337.09 968.45V970.75M342.75 532.1V533.6M342.75 639.65V643.45M342.75 749.65V753.45M342.75 859.55V863.75M342.75 968.45V970.75M348.41 532.1V535.1M348.41 637.95V645.15M348.41 747.95V755.15M348.41 857.85V865.85M348.41 966.35V970.75M354.07 532.1V533.6M354.07 639.65V643.45M354.07 749.65V753.45M354.07 859.55V863.75M354.07 968.45V970.75M359.73 532.1V533.6M359.73 639.65V643.45M359.73 749.65V753.45M359.73 859.55V863.75M359.73 968.45V970.75M365.4 532.1V533.6M365.4 639.65V643.45M365.4 749.65V753.45M365.4 859.55V863.75M365.4 968.45V970.75M371.06 532.1V533.6M371.06 639.65V643.45M371.06 749.65V753.45M371.06 859.55V863.75M371.06 968.45V970.75M376.72 532.1V535.1M376.72 637.95V645.15M376.72 747.95V755.15M376.72 857.85V865.85M376.72 966.35V970.75M382.38 532.1V533.6M382.38 639.65V643.45M382.38 749.65V753.45M382.38 859.55V863.75M382.38 968.45V970.75M388.04 532.1V533.6M388.04 639.65V643.45M388.04 749.65V753.45M388.04 859.55V863.75M388.04 968.45V970.75M393.71 532.1V533.6M393.71 639.65V643.45M393.71 749.65V753.45M393.71 859.55V863.75M393.71 968.45V970.75M399.37 532.1V533.6M399.37 639.65V643.45M399.37 749.65V753.45M399.37 859.55V863.75M399.37 968.45V970.75M405.03 532.1V535.1M405.03 637.95V645.15M405.03 747.95V755.15M405.03 857.85V865.85M405.03 966.35V970.75M410.69 532.1V533.6M410.69 639.65V643.45M410.69 749.65V753.45M410.69 859.55V863.75M410.69 968.45V970.75M416.35 532.1V533.6M416.35 639.65V643.45M416.35 749.65V753.45M416.35 859.55V863.75M416.35 968.45V970.75M422.02 532.1V533.6M422.02 639.65V643.45M422.02 749.65V753.45M422.02 859.55V863.75M422.02 968.45V970.75M427.68 532.1V533.6M427.68 639.65V643.45M427.68 749.65V753.45M427.68 859.55V863.75M427.68 968.45V970.75M433.34 532.1V535.1M433.34 637.95V645.15M433.34 747.95V755.15M433.34 857.85V865.85M433.34 966.35V970.75M439 532.1V533.6M439 639.65V643.45M439 749.65V753.45M439 859.55V863.75M439 968.45V970.75M447.69 532.1V533.6M447.69 639.65V643.45M447.69 749.65V753.45M447.69 859.55V863.75M447.69 968.45V970.75M453.35 532.1V535.1M453.35 637.95V645.15M453.35 747.95V755.15M453.35 857.85V865.85M453.35 966.35V970.75M459.01 532.1V533.6M459.01 639.65V643.45M459.01 749.65V753.45M459.01 859.55V863.75M459.01 968.45V970.75M464.67 532.1V533.6M464.67 639.65V643.45M464.67 749.65V753.45M464.67 859.55V863.75M464.67 968.45V970.75M470.34 532.1V533.6M470.34 639.65V643.45M470.34 749.65V753.45M470.34 859.55V863.75M470.34 968.45V970.75M476 532.1V533.6M476 639.65V643.45M476 749.65V753.45M476 859.55V863.75M476 968.45V970.75M481.66 532.1V535.1M481.66 637.95V645.15M481.66 747.95V755.15M481.66 857.85V865.85M481.66 966.35V970.75M487.32 532.1V533.6M487.32 639.65V643.45M487.32 749.65V753.45M487.32 859.55V863.75M487.32 968.45V970.75M492.98 532.1V533.6M492.98 639.65V643.45M492.98 749.65V753.45M492.98 859.55V863.75M492.98 968.45V970.75M498.65 532.1V533.6M498.65 639.65V643.45M498.65 749.65V753.45M498.65 859.55V863.75M498.65 968.45V970.75M504.31 532.1V533.6M504.31 639.65V643.45M504.31 749.65V753.45M504.31 859.55V863.75M504.31 968.45V970.75M509.97 532.1V535.1M509.97 637.95V645.15M509.97 747.95V755.15M509.97 857.85V865.85M509.97 966.35V970.75M515.63 532.1V533.6M515.63 639.65V643.45M515.63 749.65V753.45M515.63 859.55V863.75M515.63 968.45V970.75M521.29 532.1V533.6M521.29 639.65V643.45M521.29 749.65V753.45M521.29 859.55V863.75M521.29 968.45V970.75M526.96 532.1V533.6M526.96 639.65V643.45M526.96 749.65V753.45M526.96 859.55V863.75M526.96 968.45V970.75M532.62 532.1V533.6M532.62 639.65V643.45M532.62 749.65V753.45M532.62 859.55V863.75M532.62 968.45V970.75M538.28 532.1V535.1M538.28 637.95V645.15M538.28 747.95V755.15M538.28 857.85V865.85M538.28 966.35V970.75M543.94 532.1V533.6M543.94 639.65V643.45M543.94 749.65V753.45M543.94 859.55V863.75M543.94 968.45V970.75M549.6 532.1V533.6M549.6 639.65V643.45M549.6 749.65V753.45M549.6 859.55V863.75M549.6 968.45V970.75M555.27 532.1V533.6M555.27 639.65V643.45M555.27 749.65V753.45M555.27 859.55V863.75M555.27 968.45V970.75M560.93 532.1V533.6M560.93 639.65V643.45M560.93 749.65V753.45M560.93 859.55V863.75M560.93 968.45V970.75M566.59 532.1V535.1M566.59 637.95V645.15M566.59 747.95V755.15M566.59 857.85V865.85M566.59 966.35V970.75M572.25 532.1V533.6M572.25 639.65V643.45M572.25 749.65V753.45M572.25 859.55V863.75M572.25 968.45V970.75M580.91 532.1V533.6M580.91 639.65V643.45M580.91 749.65V753.45M580.91 859.55V863.75M580.91 968.45V970.75M586.57 532.1V535.1M586.57 637.95V645.15M586.57 747.95V755.15M586.57 857.85V865.85M586.57 966.35V970.75M592.23 532.1V533.6M592.23 639.65V643.45M592.23 749.65V753.45M592.23 859.55V863.75M592.23 968.45V970.75M597.89 532.1V533.6M597.89 639.65V643.45M597.89 749.65V753.45M597.89 859.55V863.75M597.89 968.45V970.75M603.56 532.1V533.6M603.56 639.65V643.45M603.56 749.65V753.45M603.56 859.55V863.75M603.56 968.45V970.75M609.22 532.1V533.6M609.22 639.65V643.45M609.22 749.65V753.45M609.22 859.55V863.75M609.22 968.45V970.75M614.88 532.1V535.1M614.88 637.95V645.15M614.88 747.95V755.15M614.88 857.85V865.85M614.88 966.35V970.75M620.54 532.1V533.6M620.54 639.65V643.45M620.54 749.65V753.45M620.54 859.55V863.75M620.54 968.45V970.75M626.2 532.1V533.6M626.2 639.65V643.45M626.2 749.65V753.45M626.2 859.55V863.75M626.2 968.45V970.75M631.87 532.1V533.6M631.87 639.65V643.45M631.87 749.65V753.45M631.87 859.55V863.75M631.87 968.45V970.75M637.53 532.1V533.6M637.53 639.65V643.45M637.53 749.65V753.45M637.53 859.55V863.75M637.53 968.45V970.75M643.19 532.1V535.1M643.19 637.95V645.15M643.19 747.95V755.15M643.19 857.85V865.85M643.19 966.35V970.75M648.85 532.1V533.6M648.85 639.65V643.45M648.85 749.65V753.45M648.85 859.55V863.75M648.85 968.45V970.75M654.51 532.1V533.6M654.51 639.65V643.45M654.51 749.65V753.45M654.51 859.55V863.75M654.51 968.45V970.75M660.18 532.1V533.6M660.18 639.65V643.45M660.18 749.65V753.45M660.18 859.55V863.75M660.18 968.45V970.75M665.84 532.1V533.6M665.84 639.65V643.45M665.84 749.65V753.45M665.84 859.55V863.75M665.84 968.45V970.75M671.5 532.1V535.1M671.5 637.95V645.15M671.5 747.95V755.15M671.5 857.85V865.85M671.5 966.35V970.75M677.16 532.1V533.6M677.16 639.65V643.45M677.16 749.65V753.45M677.16 859.55V863.75M677.16 968.45V970.75M682.82 532.1V533.6M682.82 639.65V643.45M682.82 749.65V753.45M682.82 859.55V863.75M682.82 968.45V970.75M688.49 532.1V533.6M688.49 639.65V643.45M688.49 749.65V753.45M688.49 859.55V863.75M688.49 968.45V970.75M694.15 532.1V533.6M694.15 639.65V643.45M694.15 749.65V753.45M694.15 859.55V863.75M694.15 968.45V970.75M699.81 532.1V535.1M699.81 637.95V645.15M699.81 747.95V755.15M699.81 857.85V865.85M699.81 966.35V970.75M705.47 532.1V533.6M705.47 639.65V643.45M705.47 749.65V753.45M705.47 859.55V863.75M705.47 968.45V970.75M43.9 637.6H46.4M174.65 637.6H179.35M308.1 637.6H312.5M441.1 637.6H445.5M574.4 637.6H579M707.6 637.6H710M43.9 633.2H46.4M174.65 633.2H179.35M308.1 633.2H312.5M441.1 633.2H445.5M574.4 633.2H579M707.6 633.2H710M43.9 628.8H46.4M174.65 628.8H179.35M308.1 628.8H312.5M441.1 628.8H445.5M574.4 628.8H579M707.6 628.8H710M43.9 624.4H48.9M172.15 624.4H181.35M306.1 624.4H314.5M439.1 624.4H447.5M572.4 624.4H581.2M705.4 624.4H710M43.9 620H46.4M174.65 620H179.35M308.1 620H312.5M441.1 620H445.5M574.4 620H579M707.6 620H710M43.9 615.6H46.4M174.65 615.6H179.35M308.1 615.6H312.5M441.1 615.6H445.5M574.4 615.6H579M707.6 615.6H710M43.9 611.2H46.4M174.65 611.2H179.35M308.1 611.2H312.5M441.1 611.2H445.5M574.4 611.2H579M707.6 611.2H710M43.9 606.8H46.4M174.65 606.8H179.35M308.1 606.8H312.5M441.1 606.8H445.5M574.4 606.8H579M707.6 606.8H710M43.9 602.4H48.9M172.15 602.4H181.35M306.1 602.4H314.5M439.1 602.4H447.5M572.4 602.4H581.2M705.4 602.4H710M43.9 598H46.4M174.65 598H179.35M308.1 598H312.5M441.1 598H445.5M574.4 598H579M707.6 598H710M43.9 593.6H46.4M174.65 593.6H179.35M308.1 593.6H312.5M441.1 593.6H445.5M574.4 593.6H579M707.6 593.6H710M43.9 589.2H46.4M174.65 589.2H179.35M308.1 589.2H312.5M441.1 589.2H445.5M574.4 589.2H579M707.6 589.2H710M43.9 584.8H46.4M174.65 584.8H179.35M308.1 584.8H312.5M441.1 584.8H445.5M574.4 584.8H579M707.6 584.8H710M43.9 580.4H48.9M172.15 580.4H181.35M306.1 580.4H314.5M439.1 580.4H447.5M572.4 580.4H581.2M705.4 580.4H710M43.9 576H46.4M174.65 576H179.35M308.1 576H312.5M441.1 576H445.5M574.4 576H579M707.6 576H710M43.9 571.6H46.4M174.65 571.6H179.35M308.1 571.6H312.5M441.1 571.6H445.5M574.4 571.6H579M707.6 571.6H710M43.9 567.2H46.4M174.65 567.2H179.35M308.1 567.2H312.5M441.1 567.2H445.5M574.4 567.2H579M707.6 567.2H710M43.9 562.8H46.4M174.65 562.8H179.35M308.1 562.8H312.5M441.1 562.8H445.5M574.4 562.8H579M707.6 562.8H710M43.9 558.4H48.9M172.15 558.4H181.35M306.1 558.4H314.5M439.1 558.4H447.5M572.4 558.4H581.2M705.4 558.4H710M43.9 554H46.4M174.65 554H179.35M308.1 554H312.5M441.1 554H445.5M574.4 554H579M707.6 554H710M43.9 549.6H46.4M174.65 549.6H179.35M308.1 549.6H312.5M441.1 549.6H445.5M574.4 549.6H579M707.6 549.6H710M43.9 545.2H46.4M174.65 545.2H179.35M308.1 545.2H312.5M441.1 545.2H445.5M574.4 545.2H579M707.6 545.2H710M43.9 540.8H46.4M174.65 540.8H179.35M308.1 540.8H312.5M441.1 540.8H445.5M574.4 540.8H579M707.6 540.8H710M43.9 536.4H48.9M172.15 536.4H181.35M306.1 536.4H314.5M439.1 536.4H447.5M572.4 536.4H581.2M705.4 536.4H710M43.9 749.59H46.7M174.35 749.59H179.35M308.1 749.59H312.5M441.1 749.59H445.5M574.4 749.59H579M707.6 749.59H710M43.9 745.2H49.5M171.55 745.2H181.35M306.1 745.2H314.5M439.1 745.2H447.5M572.4 745.2H581.2M705.4 745.2H710M43.9 740.81H46.7M174.35 740.81H179.35M308.1 740.81H312.5M441.1 740.81H445.5M574.4 740.81H579M707.6 740.81H710M43.9 736.42H46.7M174.35 736.42H179.35M308.1 736.42H312.5M441.1 736.42H445.5M574.4 736.42H579M707.6 736.42H710M43.9 732.03H46.7M174.35 732.03H179.35M308.1 732.03H312.5M441.1 732.03H445.5M574.4 732.03H579M707.6 732.03H710M43.9 727.64H46.7M174.35 727.64H179.35M308.1 727.64H312.5M441.1 727.64H445.5M574.4 727.64H579M707.6 727.64H710M43.9 723.25H49.5M171.55 723.25H181.35M306.1 723.25H314.5M439.1 723.25H447.5M572.4 723.25H581.2M705.4 723.25H710M43.9 718.86H46.7M174.35 718.86H179.35M308.1 718.86H312.5M441.1 718.86H445.5M574.4 718.86H579M707.6 718.86H710M43.9 714.47H46.7M174.35 714.47H179.35M308.1 714.47H312.5M441.1 714.47H445.5M574.4 714.47H579M707.6 714.47H710M43.9 710.08H46.7M174.35 710.08H179.35M308.1 710.08H312.5M441.1 710.08H445.5M574.4 710.08H579M707.6 710.08H710M43.9 705.69H46.7M174.35 705.69H179.35M308.1 705.69H312.5M441.1 705.69H445.5M574.4 705.69H579M707.6 705.69H710M43.9 701.3H49.5M171.55 701.3H181.35M306.1 701.3H314.5M439.1 701.3H447.5M572.4 701.3H581.2M705.4 701.3H710M43.9 696.91H46.7M174.35 696.91H179.35M308.1 696.91H312.5M441.1 696.91H445.5M574.4 696.91H579M707.6 696.91H710M43.9 692.52H46.7M174.35 692.52H179.35M308.1 692.52H312.5M441.1 692.52H445.5M574.4 692.52H579M707.6 692.52H710M43.9 688.13H46.7M174.35 688.13H179.35M308.1 688.13H312.5M441.1 688.13H445.5M574.4 688.13H579M707.6 688.13H710M43.9 683.74H46.7M174.35 683.74H179.35M308.1 683.74H312.5M441.1 683.74H445.5M574.4 683.74H579M707.6 683.74H710M43.9 679.35H49.5M171.55 679.35H181.35M306.1 679.35H314.5M439.1 679.35H447.5M572.4 679.35H581.2M705.4 679.35H710M43.9 674.96H46.7M174.35 674.96H179.35M308.1 674.96H312.5M441.1 674.96H445.5M574.4 674.96H579M707.6 674.96H710M43.9 670.57H46.7M174.35 670.57H179.35M308.1 670.57H312.5M441.1 670.57H445.5M574.4 670.57H579M707.6 670.57H710M43.9 666.18H46.7M174.35 666.18H179.35M308.1 666.18H312.5M441.1 666.18H445.5M574.4 666.18H579M707.6 666.18H710M43.9 661.79H46.7M174.35 661.79H179.35M308.1 661.79H312.5M441.1 661.79H445.5M574.4 661.79H579M707.6 661.79H710M43.9 657.4H49.5M171.55 657.4H181.35M306.1 657.4H314.5M439.1 657.4H447.5M572.4 657.4H581.2M705.4 657.4H710M43.9 653.01H46.7M174.35 653.01H179.35M308.1 653.01H312.5M441.1 653.01H445.5M574.4 653.01H579M707.6 653.01H710M43.9 648.62H46.7M174.35 648.62H179.35M308.1 648.62H312.5M441.1 648.62H445.5M574.4 648.62H579M707.6 648.62H710M43.9 644.23H46.7M174.35 644.23H179.35M308.1 644.23H312.5M441.1 644.23H445.5M574.4 644.23H579M707.6 644.23H710M43.9 855.04H49.4M171.65 855.04H181.35M306.1 855.04H314.5M439.1 855.04H447.5M572.4 855.04H581.2M705.4 855.04H710M43.9 848.59H46.7M174.35 848.59H179.35M308.1 848.59H312.5M441.1 848.59H445.5M574.4 848.59H579M707.6 848.59H710M43.9 842.14H46.7M174.35 842.14H179.35M308.1 842.14H312.5M441.1 842.14H445.5M574.4 842.14H579M707.6 842.14H710M43.9 835.7H46.7M174.35 835.7H179.35M308.1 835.7H312.5M441.1 835.7H445.5M574.4 835.7H579M707.6 835.7H710M43.9 829.25H46.7M174.35 829.25H179.35M308.1 829.25H312.5M441.1 829.25H445.5M574.4 829.25H579M707.6 829.25H710M43.9 822.8H49.4M171.65 822.8H181.35M306.1 822.8H314.5M439.1 822.8H447.5M572.4 822.8H581.2M705.4 822.8H710M43.9 816.35H46.7M174.35 816.35H179.35M308.1 816.35H312.5M441.1 816.35H445.5M574.4 816.35H579M707.6 816.35H710M43.9 809.9H46.7M174.35 809.9H179.35M308.1 809.9H312.5M441.1 809.9H445.5M574.4 809.9H579M707.6 809.9H710M43.9 803.46H46.7M174.35 803.46H179.35M308.1 803.46H312.5M441.1 803.46H445.5M574.4 803.46H579M707.6 803.46H710M43.9 797.01H46.7M174.35 797.01H179.35M308.1 797.01H312.5M441.1 797.01H445.5M574.4 797.01H579M707.6 797.01H710M43.9 790.56H49.4M171.65 790.56H181.35M306.1 790.56H314.5M439.1 790.56H447.5M572.4 790.56H581.2M705.4 790.56H710M43.9 784.11H46.7M174.35 784.11H179.35M308.1 784.11H312.5M441.1 784.11H445.5M574.4 784.11H579M707.6 784.11H710M43.9 777.66H46.7M174.35 777.66H179.35M308.1 777.66H312.5M441.1 777.66H445.5M574.4 777.66H579M707.6 777.66H710M43.9 771.22H46.7M174.35 771.22H179.35M308.1 771.22H312.5M441.1 771.22H445.5M574.4 771.22H579M707.6 771.22H710M43.9 764.77H46.7M174.35 764.77H179.35M308.1 764.77H312.5M441.1 764.77H445.5M574.4 764.77H579M707.6 764.77H710M43.9 758.32H49.4M171.65 758.32H181.35M306.1 758.32H314.5M439.1 758.32H447.5M572.4 758.32H581.2M705.4 758.32H710M43.9 751.87H46.7M174.35 751.87H179.35M308.1 751.87H312.5M441.1 751.87H445.5M574.4 751.87H579M707.6 751.87H710M43.9 969H45.9M175.15 969H178.65M308.8 969H311.8M441.8 969H444.8M575.1 969H578.3M708.3 969H710M43.9 960.4H45.9M175.15 960.4H178.65M308.8 960.4H311.8M441.8 960.4H444.8M575.1 960.4H578.3M708.3 960.4H710M43.9 951.8H45.9M175.15 951.8H178.65M308.8 951.8H311.8M441.8 951.8H444.8M575.1 951.8H578.3M708.3 951.8H710M43.9 943.2H47.8M173.25 943.2H179.95M307.5 943.2H313.1M440.5 943.2H446.1M573.8 943.2H579.8M706.8 943.2H710M43.9 934.6H45.9M175.15 934.6H178.65M308.8 934.6H311.8M441.8 934.6H444.8M575.1 934.6H578.3M708.3 934.6H710M43.9 926H45.9M175.15 926H178.65M308.8 926H311.8M441.8 926H444.8M575.1 926H578.3M708.3 926H710M43.9 917.4H45.9M175.15 917.4H178.65M308.8 917.4H311.8M441.8 917.4H444.8M575.1 917.4H578.3M708.3 917.4H710M43.9 908.8H45.9M175.15 908.8H178.65M308.8 908.8H311.8M441.8 908.8H444.8M575.1 908.8H578.3M708.3 908.8H710M43.9 900.2H47.8M173.25 900.2H179.95M307.5 900.2H313.1M440.5 900.2H446.1M573.8 900.2H579.8M706.8 900.2H710M43.9 891.6H45.9M175.15 891.6H178.65M308.8 891.6H311.8M441.8 891.6H444.8M575.1 891.6H578.3M708.3 891.6H710M43.9 883H45.9M175.15 883H178.65M308.8 883H311.8M441.8 883H444.8M575.1 883H578.3M708.3 883H710M43.9 874.4H45.9M175.15 874.4H178.65M308.8 874.4H311.8M441.8 874.4H444.8M575.1 874.4H578.3M708.3 874.4H710M43.9 865.8H45.9M175.15 865.8H178.65M308.8 865.8H311.8M441.8 865.8H444.8M575.1 865.8H578.3M708.3 865.8H710" stroke-width="1.15"/>
</g>
<g id="ticklabels" font-size="11.1">
<text x="41" y="628.9" text-anchor="end">0</text><text x="41" y="606.9" text-anchor="end">5</text><text x="41" y="584.9" text-anchor="end">10</text><text x="41" y="562.9" text-anchor="end">15</text><text x="41" y="540.9" text-anchor="end">20</text><text x="41" y="749.7" text-anchor="end">0</text><text x="41" y="727.75" text-anchor="end">10</text><text x="41" y="705.8" text-anchor="end">20</text><text x="41" y="683.85" text-anchor="end">30</text><text x="41" y="661.9" text-anchor="end">40</text><text x="41" y="859.54" text-anchor="end">−10</text><text x="41" y="827.3" text-anchor="end">0</text><text x="41" y="795.06" text-anchor="end">10</text><text x="41" y="762.82" text-anchor="end">20</text><text x="41" y="947.7" text-anchor="end">0</text><text x="41" y="904.7" text-anchor="end">50</text>
<text x="53.5" y="982.4" text-anchor="middle">0</text><text x="82.21" y="982.4" text-anchor="middle">100</text><text x="110.52" y="982.4" text-anchor="middle">200</text><text x="138.83" y="982.4" text-anchor="middle">300</text><text x="167.14" y="982.4" text-anchor="middle">400</text><text x="186.75" y="982.4" text-anchor="middle">0</text><text x="215.46" y="982.4" text-anchor="middle">100</text><text x="243.77" y="982.4" text-anchor="middle">200</text><text x="272.08" y="982.4" text-anchor="middle">300</text><text x="300.39" y="982.4" text-anchor="middle">400</text><text x="319.7" y="982.4" text-anchor="middle">0</text><text x="348.41" y="982.4" text-anchor="middle">100</text><text x="376.72" y="982.4" text-anchor="middle">200</text><text x="405.03" y="982.4" text-anchor="middle">300</text><text x="433.34" y="982.4" text-anchor="middle">400</text><text x="452.95" y="982.4" text-anchor="middle">0</text><text x="481.66" y="982.4" text-anchor="middle">100</text><text x="509.97" y="982.4" text-anchor="middle">200</text><text x="538.28" y="982.4" text-anchor="middle">300</text><text x="566.59" y="982.4" text-anchor="middle">400</text><text x="586.17" y="982.4" text-anchor="middle">0</text><text x="614.88" y="982.4" text-anchor="middle">100</text><text x="643.19" y="982.4" text-anchor="middle">200</text><text x="671.5" y="982.4" text-anchor="middle">300</text><text x="699.81" y="982.4" text-anchor="middle">400</text>
</g>
<g id="axistitles">
<text x="85.1" y="997.4" font-size="16">&lt;<tspan dx="0.8">N</tspan><tspan font-size="10.8" dy="5.4" dx="-0.6">part</tspan><tspan dy="-5.4">&gt;</tspan></text><text x="218.35" y="997.4" font-size="16">&lt;<tspan dx="0.8">N</tspan><tspan font-size="10.8" dy="5.4" dx="-0.6">part</tspan><tspan dy="-5.4">&gt;</tspan></text><text x="351.5" y="997.4" font-size="16">&lt;<tspan dx="0.8">N</tspan><tspan font-size="10.8" dy="5.4" dx="-0.6">part</tspan><tspan dy="-5.4">&gt;</tspan></text><text x="484.5" y="997.4" font-size="16">&lt;<tspan dx="0.8">N</tspan><tspan font-size="10.8" dy="5.4" dx="-0.6">part</tspan><tspan dy="-5.4">&gt;</tspan></text><text x="617.8" y="997.4" font-size="16">&lt;<tspan dx="0.8">N</tspan><tspan font-size="10.8" dy="5.4" dx="-0.6">part</tspan><tspan dy="-5.4">&gt;</tspan></text>
<text transform="translate(20.3 594.2) rotate(-90)" font-size="16.9">C<tspan font-size="10.8" dy="4.6" dx="-0.6">1</tspan></text><text transform="translate(20.3 705.2) rotate(-90)" font-size="16.9">C<tspan font-size="10.8" dy="4.6" dx="-0.6">2</tspan></text><text transform="translate(20.3 815) rotate(-90)" font-size="16.9">C<tspan font-size="10.8" dy="4.6" dx="-0.6">3</tspan></text><text transform="translate(20.3 925.2) rotate(-90)" font-size="16.9">C<tspan font-size="10.8" dy="4.6" dx="-0.6">4</tspan></text>
</g>
<g id="titles" font-size="14.3" text-anchor="middle">
<text x="111.2" y="549.5">initial state</text><text x="244.75" y="549.5" textLength="124.6" lengthAdjust="spacingAndGlyphs">after parton cascade</text><text x="377.35" y="549.5">after hadronization</text><text x="511.05" y="549.5">after hadronic</text><text x="510.55" y="562.8">rescatterings</text><text x="644.95" y="549.5">final state</text>
</g>
<g id="legend">
<text x="208.1" y="575.4" font-size="13.9">AMPT</text><text x="214.9" y="590" font-size="12.5">NetS</text><text x="214.9" y="610.4" font-size="12.5">NetK</text><path d="M193.3 586H209" stroke="#0000ff" stroke-width="1"/><g fill="#0000ff"><rect x="198.75" y="583.55" width="4.9" height="4.9"/></g><path d="M193.3 606.7H209" stroke="#ff0000" stroke-width="1"/><g fill="#ff0000"><polygon points="201.2,603 203.7,606.7 201.2,610.4 198.7,606.7"/></g><text x="344.1" y="575.4" font-size="14.4">STAR</text><text x="348.2" y="590.4" font-size="12.5">NetK</text><path d="M326.6 586.3H342" stroke="#ed770e" stroke-width="1"/><g fill="#ed770e"><polygon points="334.2,581.6 335.32,584.76 338.67,584.85 336.01,586.89 336.96,590.1 334.2,588.2 331.44,590.1 332.39,586.89 329.73,584.85 333.08,584.76"/></g>
</g>
<g id="info" font-size="13.1">
<text x="196.4" y="770.6">Au+Au 7.7GeV</text><text x="196.1" y="787.2" font-size="13.2">0.2&lt;<tspan dx="0.6">p</tspan><tspan font-size="9.2" dy="6.9" dx="0">T</tspan><tspan dy="-6.9" dx="-0.8">&lt;1.6(GeV/c)</tspan></text><text x="196.2" y="806.5">|y|&lt;0.5</text>
</g>
</svg>
</body></html>
